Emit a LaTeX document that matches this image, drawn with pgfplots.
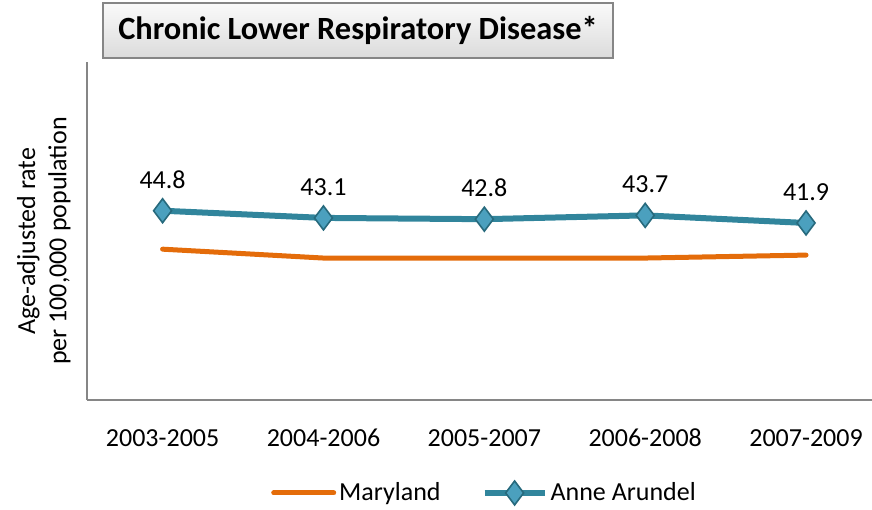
\documentclass[border=0pt]{standalone}
\usepackage{fontspec}
\setmainfont{Carlito}
\usepackage{pgfplots}
\pgfplotsset{compat=1.18}

\definecolor{mdorange}{RGB}{228,108,10}
\definecolor{aateal}{RGB}{49,133,156}
\definecolor{aafill}{RGB}{75,160,190}
\definecolor{axgray}{RGB}{134,134,134}

\begin{document}
\begin{tikzpicture}
\path[use as bounding box] (-43.5pt,-54.5pt) rectangle (392.5pt,200pt);
\begin{axis}[
    at={(0,0)}, anchor=south west,
    scale only axis,
    width=392.5pt, height=169pt,
    xmin=-0.47, xmax=4.41,
    ymin=0, ymax=80,
    axis lines*=left,
    axis line style={axgray, line width=1pt},
    xtick={0,1,2,3,4},
    xticklabels={2003-2005,2004-2006,2005-2007,2006-2008,2007-2009},
    ytick=\empty,
    major tick length=0pt,
    font=\fontsize{13}{15.6}\selectfont,
    xticklabel style={anchor=center, yshift=-19pt},
    ylabel={Age-adjusted rate\\per 100,000 population},
    ylabel style={at={(axis description cs:-0.055,0.47)}, anchor=center, align=center},
    /pgf/number format/assume math mode=true,
    legend style={at={(axis description cs:0.507,-0.275)}, anchor=center,
        draw=none, fill=none, legend columns=2,
        /tikz/every even column/.append style={column sep=19pt},
        nodes={inner sep=1.5pt}},
    legend image code/.code={\draw[mark repeat=2,mark phase=2,#1] plot coordinates {(0pt,0pt) (15pt,0pt) (30pt,0pt)};},
]
\addplot[mdorange, line width=2.5pt, line cap=round, no markers]
    coordinates {(0,35.7) (1,33.6) (2,33.6) (3,33.6) (4,34.3)};
\addlegendentry{Maryland}
\addplot[aateal, line width=3pt, mark=diamond*, mark size=6pt,
    mark options={fill=aafill, draw=aateal!80!black, line width=0.8pt},
    nodes near coords,
    every node near coord/.append style={black, anchor=center, yshift=15.5pt,
        /pgf/number format/fixed, /pgf/number format/precision=1,
        /pgf/number format/fixed zerofill}]
    coordinates {(0,44.8) (1,43.1) (2,42.8) (3,43.7) (4,41.9)};
\addlegendentry{Anne Arundel}
\end{axis}
\node[draw=axgray, line width=1pt, top color=gray!4, bottom color=gray!28,
    minimum width=255pt, minimum height=27.5pt, inner sep=0pt,
    font=\fontsize{16.2}{19}\selectfont\bfseries]
    at (135.5pt,184.75pt) {Chronic Lower Respiratory Disease*};
\end{tikzpicture}
\end{document}
